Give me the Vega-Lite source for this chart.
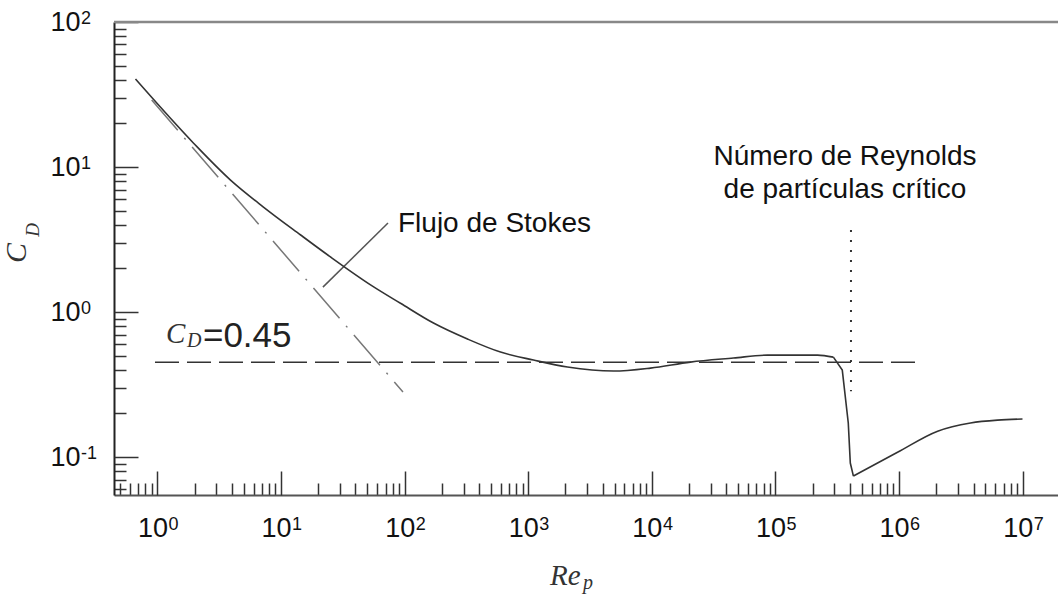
{
  "$schema": "https://vega.github.io/schema/vega-lite/v6.json",
  "width": 944,
  "height": 473,
  "autosize": {"type": "none"},
  "padding": {"left": 114, "top": 22, "right": 0, "bottom": 100},
  "background": "white",
  "config": {"view": {"stroke": null}},
  "resolve": {"axis": {"x": "independent", "y": "independent"}},
  "datasets": {
    "curves": [
      {"series": "curve", "re": 0.664, "cd": 40.4},
      {"series": "curve", "re": 1.96, "cd": 14.6},
      {"series": "curve", "re": 3.9, "cd": 8.13},
      {"series": "curve", "re": 7.2, "cd": 5.3},
      {"series": "curve", "re": 14.4, "cd": 3.4},
      {"series": "curve", "re": 25.1, "cd": 2.4},
      {"series": "curve", "re": 54.9, "cd": 1.51},
      {"series": "curve", "re": 92.5, "cd": 1.15},
      {"series": "curve", "re": 171, "cd": 0.84},
      {"series": "curve", "re": 322, "cd": 0.652},
      {"series": "curve", "re": 596, "cd": 0.53},
      {"series": "curve", "re": 1102, "cd": 0.467},
      {"series": "curve", "re": 2075, "cd": 0.418},
      {"series": "curve", "re": 4890, "cd": 0.392},
      {"series": "curve", "re": 9750, "cd": 0.411},
      {"series": "curve", "re": 20500, "cd": 0.452},
      {"series": "curve", "re": 45700, "cd": 0.482},
      {"series": "curve", "re": 86100, "cd": 0.505},
      {"series": "curve", "re": 219000, "cd": 0.505},
      {"series": "curve", "re": 294000, "cd": 0.489},
      {"series": "curve", "re": 347000, "cd": 0.398},
      {"series": "curve", "re": 388000, "cd": 0.172},
      {"series": "curve", "re": 403000, "cd": 0.091},
      {"series": "curve", "re": 427000, "cd": 0.074},
      {"series": "curve", "re": 971000, "cd": 0.108},
      {"series": "curve", "re": 2050000, "cd": 0.151},
      {"series": "curve", "re": 3780000, "cd": 0.172},
      {"series": "curve", "re": 6250000, "cd": 0.18},
      {"series": "curve", "re": 9960000, "cd": 0.183},
      {"series": "stokes", "re": 0.898, "cd": 29.0},
      {"series": "stokes", "re": 96.9, "cd": 0.281},
      {"series": "cd045", "re": 0.955, "cd": 0.45},
      {"series": "cd045", "re": 1420000, "cd": 0.45},
      {"series": "critical", "re": 408000, "cd": 3.68},
      {"series": "critical", "re": 408000, "cd": 0.285},
      {"series": "leader", "re": 21.8, "cd": 1.486},
      {"series": "leader", "re": 73.3, "cd": 4.11},
      {"series": "frame", "re": 0.445, "cd": 100},
      {"series": "frame", "re": 19300000, "cd": 100}
    ]
  },
  "encoding": {
    "x": {"field": "re", "type": "quantitative", "scale": {"type": "log", "domain": [0.445, 19300000], "nice": false}, "axis": null},
    "y": {"field": "cd", "type": "quantitative", "scale": {"type": "log", "domain": [0.0548, 100], "nice": false}, "axis": null}
  },
  "layer": [
    {
      "data": {"name": "curves"},
      "transform": [{"filter": "datum.series == 'frame'"}],
      "mark": {"type": "line", "color": "#888", "strokeWidth": 2.5},
      "encoding": {
        "x": {
          "field": "re", "type": "quantitative",
          "scale": {"type": "log", "domain": [0.445, 19300000], "nice": false},
          "axis": {
            "orient": "bottom", "title": null, "grid": false, "labels": false,
            "values": [0.5, 0.6, 0.7, 0.8, 0.9, 2, 3, 4, 5, 6, 7, 8, 9, 20, 30, 40, 50, 60, 70, 80, 90, 200, 300, 400, 500, 600, 700, 800, 900, 2000, 3000, 4000, 5000, 6000, 7000, 8000, 9000, 20000, 30000, 40000, 50000, 60000, 70000, 80000, 90000, 200000, 300000, 400000, 500000, 600000, 700000, 800000, 900000, 2000000, 3000000, 4000000, 5000000, 6000000, 7000000, 8000000, 9000000],
            "domainColor": "#555", "domainWidth": 2,
            "tickColor": "#333", "tickWidth": 1.5, "tickSize": -12
          }
        },
        "y": {
          "field": "cd", "type": "quantitative",
          "scale": {"type": "log", "domain": [0.0548, 100], "nice": false},
          "axis": {
            "orient": "left", "title": null, "grid": false, "labels": false,
            "values": [0.06, 0.07, 0.08, 0.09, 0.2, 0.3, 0.4, 0.5, 0.6, 0.7, 0.8, 0.9, 2, 3, 4, 5, 6, 7, 8, 9, 20, 30, 40, 50, 60, 70, 80, 90],
            "domainColor": "#222", "domainWidth": 2,
            "tickColor": "#333", "tickWidth": 1.5, "tickSize": -12
          }
        }
      }
    },
    {
      "data": {"name": "curves"},
      "transform": [{"filter": "datum.series == 'cd045'"}],
      "mark": {"type": "line", "color": "#333", "strokeWidth": 1.5, "strokeDash": [24, 8]}
    },
    {
      "data": {"name": "curves"},
      "transform": [{"filter": "datum.series == 'stokes'"}],
      "mark": {"type": "line", "color": "#777", "strokeWidth": 1.5, "strokeDash": [40, 10, 2, 10]}
    },
    {
      "data": {"name": "curves"},
      "transform": [{"filter": "datum.series == 'critical'"}],
      "mark": {"type": "line", "color": "#333", "strokeWidth": 2, "strokeDash": [2, 8]}
    },
    {
      "data": {"name": "curves"},
      "transform": [{"filter": "datum.series == 'leader'"}],
      "mark": {"type": "line", "color": "#555", "strokeWidth": 1.5}
    },
    {
      "data": {"name": "curves"},
      "transform": [{"filter": "datum.series == 'curve' && datum.re <= 294000"}],
      "mark": {"type": "line", "color": "#333", "strokeWidth": 1.6, "interpolate": "monotone"},
      "encoding": {
        "x": {
          "field": "re", "type": "quantitative",
          "scale": {"type": "log", "domain": [0.445, 19300000], "nice": false},
          "axis": {
            "orient": "bottom", "title": null, "grid": false, "domain": false,
            "values": [1, 10, 100, 1000, 10000, 100000, 1000000, 10000000],
            "tickColor": "#333", "tickWidth": 1.5, "tickSize": -24,
            "labelExpr": "'10'",
            "labelAlign": "right", "labelOffset": 10,
            "labelFont": "Liberation Sans", "labelFontSize": 27, "labelColor": "#111",
            "labelPadding": 44, "labelOverlap": false, "labelFlush": false, "labelBound": false
          }
        },
        "y": {
          "field": "cd", "type": "quantitative",
          "scale": {"type": "log", "domain": [0.0548, 100], "nice": false},
          "axis": {
            "orient": "left", "title": null, "grid": false, "domain": false,
            "values": [0.1, 1, 10, 100],
            "tickColor": "#333", "tickWidth": 1.5, "tickSize": -24,
            "labelExpr": "'10'",
            "labelFont": "Liberation Sans", "labelFontSize": 27, "labelColor": "#111",
            "labelPadding": 58, "labelOverlap": false, "labelFlush": false, "labelBound": false
          }
        }
      }
    },
    {
      "data": {"name": "curves"},
      "transform": [{"filter": "datum.series == 'curve' && datum.re >= 294000 && datum.re <= 427000"}],
      "mark": {"type": "line", "color": "#333", "strokeWidth": 1.6}
    },
    {
      "data": {"name": "curves"},
      "transform": [{"filter": "datum.series == 'curve' && datum.re >= 427000"}],
      "mark": {"type": "line", "color": "#333", "strokeWidth": 1.6, "interpolate": "monotone"}
    },
    {
      "data": {"values": [
        {"re": 1, "cd": 0.0548, "exp": "0"}, {"re": 10, "cd": 0.0548, "exp": "1"}, {"re": 100, "cd": 0.0548, "exp": "2"}, {"re": 1000, "cd": 0.0548, "exp": "3"},
        {"re": 10000, "cd": 0.0548, "exp": "4"}, {"re": 100000, "cd": 0.0548, "exp": "5"}, {"re": 1000000, "cd": 0.0548, "exp": "6"}, {"re": 10000000, "cd": 0.0548, "exp": "7"}
      ]},
      "mark": {"type": "text", "font": "Liberation Sans", "fontSize": 18, "color": "#111", "baseline": "alphabetic", "align": "left", "dx": 11, "dy": 35},
      "encoding": {"text": {"field": "exp"}}
    },
    {
      "data": {"values": [
        {"re": 0.445, "cd": 0.1, "exp": "-1"}, {"re": 0.445, "cd": 1, "exp": "0"}, {"re": 0.445, "cd": 10, "exp": "1"}, {"re": 0.445, "cd": 100, "exp": "2"}
      ]},
      "mark": {"type": "text", "font": "Liberation Sans", "fontSize": 18, "color": "#111", "baseline": "alphabetic", "align": "left", "dx": -33, "dy": 2},
      "encoding": {"text": {"field": "exp"}}
    },
    {
      "data": {"values": [
        {"re": 88.3, "cd": 3.56, "label": "Flujo de Stokes"},
        {"re": 365000, "cd": 10.3, "label": "Número de Reynolds"},
        {"re": 365000, "cd": 6.11, "label": "de partículas crítico"}
      ]},
      "mark": {"type": "text", "font": "Liberation Sans", "fontSize": 28, "color": "#111", "baseline": "alphabetic", "align": {"expr": "datum.label == 'Flujo de Stokes' ? 'left' : 'center'"}},
      "encoding": {"text": {"field": "label"}}
    },
    {
      "data": {"values": [{"re": 2.334, "cd": 0.574, "label": "=0.45"}]},
      "mark": {"type": "text", "font": "Liberation Sans", "fontSize": 35, "color": "#222", "baseline": "alphabetic", "align": "left"},
      "encoding": {"text": {"field": "label"}}
    },
    {
      "data": {"values": [{"re": 1.172, "cd": 0.611, "label": "C"}, {"re": 1499, "cd": 0.0131, "label": "Re"}]},
      "mark": {"type": "text", "font": "Liberation Serif", "fontStyle": "italic", "fontSize": 29, "color": "#333", "baseline": "alphabetic", "align": "left"},
      "encoding": {"text": {"field": "label"}}
    },
    {
      "data": {"values": [{"re": 1.733, "cd": 0.574, "label": "D"}, {"re": 2771, "cd": 0.0123, "label": "p"}]},
      "mark": {"type": "text", "font": "Liberation Serif", "fontStyle": "italic", "fontSize": 20, "color": "#333", "baseline": "alphabetic", "align": "left"},
      "encoding": {"text": {"field": "label"}}
    },
    {
      "data": {"values": [{"re": 0.0863, "cd": 2.55, "label": "C"}]},
      "mark": {"type": "text", "font": "Liberation Serif", "fontStyle": "italic", "fontSize": 30, "color": "#333", "baseline": "alphabetic", "align": "center", "angle": 270},
      "encoding": {"text": {"field": "label"}}
    },
    {
      "data": {"values": [{"re": 0.11, "cd": 3.68, "label": "D"}]},
      "mark": {"type": "text", "font": "Liberation Serif", "fontStyle": "italic", "fontSize": 19, "color": "#333", "baseline": "alphabetic", "align": "center", "angle": 270},
      "encoding": {"text": {"field": "label"}}
    }
  ]
}
